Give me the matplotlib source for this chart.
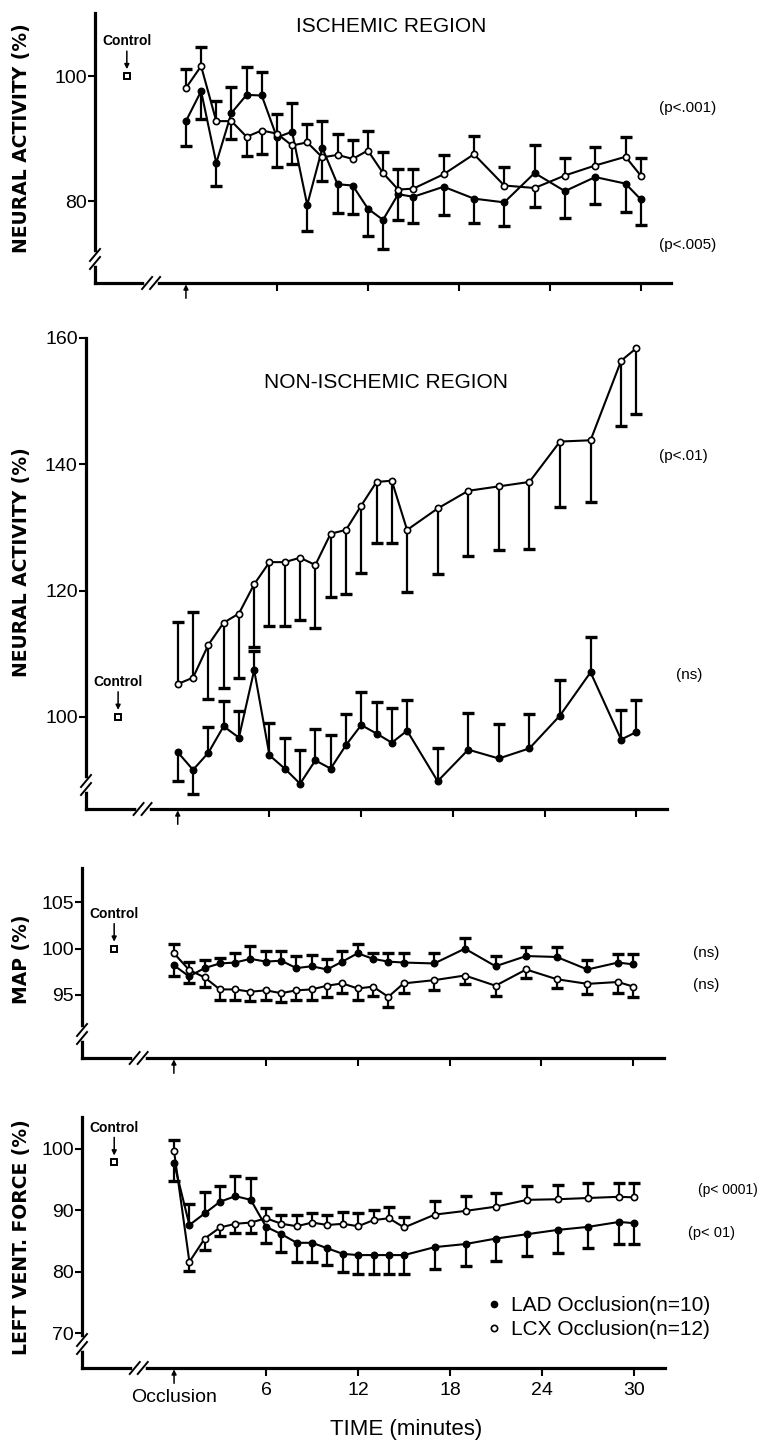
import numpy as np
import matplotlib.pyplot as plt
from matplotlib.lines import Line2D
from matplotlib.transforms import IdentityTransform

W, H = 762, 1445
plt.rcParams['font.family'] = ['Liberation Sans', 'DejaVu Sans']

# ---- data ----
time = [0, 1, 2, 3, 4, 5, 6, 7, 8, 9, 10, 11, 12, 13, 14, 15, 17, 19, 21, 23, 25, 27, 29, 30]
control_t = -3.9
control_vals = [100, 100, 100, 97.8]

# ischemic region neural activity
isch_lad = [92.8, 97.6, 86.1, 94.1, 97.0, 96.9, 90.2, 91.1, 79.4, 88.5, 82.7, 82.5,
            78.8, 77.0, 81.1, 80.7, 82.3, 80.4, 79.8, 84.5, 81.6, 83.85, 82.8, 80.3]
isch_lad_tip = [88.85, 93.1, 82.5, 98.3, 101.5, 100.6, 85.4, 95.7, 75.2, 92.8, 78.05, 78.0,
                74.4, 72.4, 77.0, 76.5, 77.8, 76.5, 76.1, 89.0, 77.3, 79.5, 78.3, 76.2]
isch_lcx = [98.1, 101.6, 92.8, 92.8, 90.3, 91.3, 90.8, 88.9, 89.4, 87.0, 87.4, 86.75,
            88.1, 84.5, 81.85, 82.0, 84.3, 87.5, 82.5, 82.1, 84.1, 85.7, 87.1, 84.1]
isch_lcx_tip = [101.2, 104.6, 95.96, 89.9, 87.3, 87.6, 93.9, 86.0, 92.3, 83.3, 90.8, 89.7,
                91.3, 87.8, 85.2, 85.2, 87.4, 90.5, 85.5, 79.1, 86.9, 88.7, 90.25, 86.9]

# non-ischemic region neural activity
non_lad = [94.4, 91.6, 94.3, 98.5, 96.7, 107.4, 93.9, 91.8, 89.4, 93.1, 91.8, 95.5,
           98.7, 97.35, 95.9, 97.8, 89.8, 94.8, 93.4, 95.0, 100.2, 107.05, 96.4, 97.6]
non_lad_tip = [89.9, 87.8, 98.4, 102.5, 100.9, 110.5, 99.0, 96.7, 94.7, 98.0, 97.1, 100.5,
               103.9, 102.3, 101.4, 102.7, 95.1, 100.6, 98.9, 100.4, 105.8, 112.6, 101.1, 102.7]
non_lcx = [105.2, 106.2, 111.4, 114.9, 116.35, 121.0, 124.5, 124.5, 125.2, 124.05, 129.0, 129.6,
           133.45, 137.2, 137.4, 129.6, 133.0, 135.8, 136.5, 137.2, 143.6, 143.8, 156.4, 158.4]
non_lcx_tip = [115.0, 116.6, 102.75, 104.6, 106.2, 111.1, 114.4, 114.4, 115.3, 114.1, 119.0, 119.5,
               122.8, 127.5, 127.5, 119.8, 122.6, 125.4, 126.5, 126.6, 133.3, 134.0, 146.1, 147.95]

# mean arterial pressure
map_lad = [98.2, 97.0, 97.9, 98.4, 98.5, 98.9, 98.6, 98.7, 97.9, 98.1, 97.75, 98.6,
           99.5, 98.9, 98.6, 98.5, 98.4, 100.0, 98.1, 99.2, 99.1, 97.75, 98.5, 98.3]
map_lad_tip = [97.1, 98.6, 98.75, 99.0, 99.5, 100.25, 99.75, 99.75, 99.2, 99.3, 98.9, 99.7,
               100.5, 99.5, 99.5, 99.5, 99.5, 101.1, 99.2, 100.2, 100.2, 98.8, 99.4, 99.4]
map_lcx = [99.5, 97.7, 96.9, 95.6, 95.6, 95.35, 95.5, 95.2, 95.5, 95.6, 96.0, 96.25,
           95.7, 95.9, 94.8, 96.25, 96.6, 97.1, 96.0, 97.75, 96.7, 96.2, 96.4, 95.9]
map_lcx_tip = [100.5, 96.25, 95.9, 94.5, 94.5, 94.4, 94.5, 94.2, 94.5, 94.5, 94.8, 95.2,
               94.5, 94.9, 93.75, 95.25, 95.5, 96.2, 94.9, 96.8, 95.7, 95.1, 95.25, 94.75]

# left ventricular force
lvf_lad = [97.7, 87.6, 89.5, 91.4, 92.3, 91.7, 87.3, 86.1, 84.7, 84.7, 83.8, 82.9,
           82.7, 82.7, 82.7, 82.7, 84.0, 84.5, 85.4, 86.1, 86.8, 87.3, 88.1, 87.9]
lvf_lad_tip = [94.7, 91.0, 93.0, 93.9, 95.6, 95.2, 84.7, 83.25, 81.6, 81.6, 81.1, 80.0,
               79.6, 79.6, 79.6, 79.6, 80.5, 81.0, 81.7, 82.5, 83.0, 83.8, 84.5, 84.5]
lvf_lcx = [99.6, 81.6, 85.4, 87.2, 87.8, 88.0, 88.7, 87.8, 87.4, 88.0, 87.6, 87.8,
           87.4, 88.4, 88.7, 87.2, 89.3, 89.9, 90.6, 91.7, 91.8, 92.0, 92.2, 92.1]
lvf_lcx_tip = [101.5, 80.15, 83.5, 85.8, 86.35, 86.35, 90.35, 89.2, 89.2, 89.5, 89.2, 89.8,
               89.5, 90.05, 90.5, 88.9, 91.5, 92.4, 92.8, 94.0, 94.1, 94.4, 94.4, 94.4]

xticks = [6, 12, 18, 24, 30]
ylabels = ["NEURAL ACTIVITY (%)", "NEURAL ACTIVITY (%)", "MAP (%)", "LEFT VENT. FORCE (%)"]
yticks = [[80, 100], [100, 120, 140, 160], [95, 100, 105], [70, 80, 90, 100]]

# ---- layout (pixels: left, top, right, bottom) ----
boxes = [(95, 13, 671, 283), (86, 338, 667, 809), (82, 868, 664, 1058), (82, 1117, 665, 1368)]
ylims = [(66.9, 110.1), (85.4, 160), (88.2, 108.7), (64.3, 105.2)]
ylabel_y = [138, 562, 959, 1237]

fig = plt.figure(figsize=(W / 100, H / 100), dpi=100)


def slashes(cx, cy, vertical_axis):
    # white gap + "//" mark on a spine, display pixel coords
    if vertical_axis:
        fig.add_artist(Line2D([cx, cx], [cy - 4, cy + 4], transform=IdentityTransform(),
                              color='white', lw=4, zorder=10))
        offs = [(0, -4), (0, 4)]
    else:
        fig.add_artist(Line2D([cx - 4, cx + 4], [cy, cy], transform=IdentityTransform(),
                              color='white', lw=4, zorder=10))
        offs = [(-4, 0), (4, 0)]
    for dx, dy in offs:
        fig.add_artist(Line2D([cx + dx - 5, cx + dx + 5], [cy + dy - 6, cy + dy + 6],
                              transform=IdentityTransform(), color='k', lw=1.4, zorder=11))


def draw_series(ax, vals, tips, filled):
    ax.vlines(time, vals, tips, color='k', lw=1.6, zorder=2)
    ax.plot(time, tips, ls='none', marker='_', ms=8, mew=2.4, color='k', zorder=2)
    ax.plot(time, vals, '-', color='k', lw=1.5, marker='o', ms=4.5,
            mfc='k' if filled else 'white', mec='k', mew=1.2, zorder=3 if filled else 4)


series = [(isch_lad, isch_lad_tip, isch_lcx, isch_lcx_tip),
          (non_lad, non_lad_tip, non_lcx, non_lcx_tip),
          (map_lad, map_lad_tip, map_lcx, map_lcx_tip),
          (lvf_lad, lvf_lad_tip, lvf_lcx, lvf_lcx_tip)]

axes = []
for i, (l, t, r, b) in enumerate(boxes):
    ax = fig.add_axes([l / W, 1 - b / H, (r - l) / W, (b - t) / H])
    ax.patch.set_alpha(0)
    ax.set_xlim(-6, 32)
    ax.set_ylim(*ylims[i])
    for s in ['top', 'right']:
        ax.spines[s].set_visible(False)
    for s in ['left', 'bottom']:
        ax.spines[s].set_linewidth(2.3)
    ax.set_yticks(yticks[i])
    ax.set_xticks(xticks)
    ax.tick_params(axis='y', direction='out', length=5, width=1.5, labelsize=14, pad=1)
    ax.tick_params(axis='x', direction='out', length=6, width=1.5, labelsize=14, pad=4)
    if i < 3:
        ax.set_xticklabels([])

    lad, lad_tip, lcx, lcx_tip = series[i]
    draw_series(ax, lad, lad_tip, True)
    draw_series(ax, lcx, lcx_tip, False)

    # control point
    ax.plot([control_t], [control_vals[i]], marker='s', ms=5, mfc='white', mec='k', mew=1.4,
            ls='none', zorder=4)
    ax.annotate('', xy=(control_t, control_vals[i]), xytext=(0, 18), textcoords='offset points',
                arrowprops=dict(arrowstyle='-|>', color='k', lw=1.1, mutation_scale=7,
                                shrinkA=0, shrinkB=5))
    ax.annotate('Control', xy=(control_t, control_vals[i]), xytext=(0, 25),
                textcoords='offset points', ha='center', va='center', fontsize=10,
                fontweight='bold')

    # occlusion arrow under the time axis
    ax.annotate('', xy=(0, 0), xycoords=ax.get_xaxis_transform(), xytext=(0, -11),
                textcoords='offset points',
                arrowprops=dict(arrowstyle='-|>', color='k', lw=1.1, mutation_scale=7,
                                shrinkA=0, shrinkB=1))

    fig.text(22 / W, 1 - ylabel_y[i] / H, ylabels[i], rotation=90, ha='center', va='center',
             fontsize=13.5, fontweight='bold', family='DejaVu Sans')
    axes.append(ax)

# axis breaks
fig.canvas.draw()
for ax in axes:
    x0, y0 = ax.transAxes.transform((0, 0))
    slashes(x0, y0 + 24, True)
    xb, _ = ax.transData.transform((-2.3, 0))
    slashes(xb, y0, False)

ax4 = axes[3]
ax4.annotate('Occlusion', xy=(0, 0), xycoords=ax4.get_xaxis_transform(), xytext=(0, -21),
             textcoords='offset points', ha='center', va='center', fontsize=14)

# titles and p-values
fig.text(391 / W, 1 - 27 / H, "ISCHEMIC REGION", ha='center', va='center', fontsize=15)
fig.text(386 / W, 1 - 382 / H, "NON-ISCHEMIC REGION", ha='center', va='center', fontsize=15)
pvals = [("(p<.001)", 659, 108, 11), ("(p<.005)", 659, 245, 11), ("(p<.01)", 659, 456, 11),
         ("(ns)", 676, 675, 11), ("(ns)", 693, 953, 11), ("(ns)", 693, 985, 11),
         ("(p< 0001)", 698, 1190, 10), ("(p< 01)", 688, 1233, 10.5)]
for txt, px, py, fs in pvals:
    fig.text(px / W, 1 - py / H, txt, ha='left', va='center', fontsize=fs)

fig.text(406 / W, 1 - 1430 / H, "TIME (minutes)", ha='center', va='center', fontsize=16)

handles = [Line2D([], [], ls='none', marker='o', ms=4.5, mfc='k', mec='k'),
           Line2D([], [], ls='none', marker='o', ms=4.5, mfc='white', mec='k', mew=1.2)]
ax4.legend(handles, ["LAD Occlusion(n=10)", "LCX Occlusion(n=12)"], loc='upper left',
           bbox_to_anchor=(486 / W, 1 - 1296 / H), bbox_transform=fig.transFigure,
           frameon=False, fontsize=15, handlelength=0.8, handletextpad=0.4,
           labelspacing=0.25, borderpad=0, borderaxespad=0)

fig.savefig("out.png", dpi=100)
